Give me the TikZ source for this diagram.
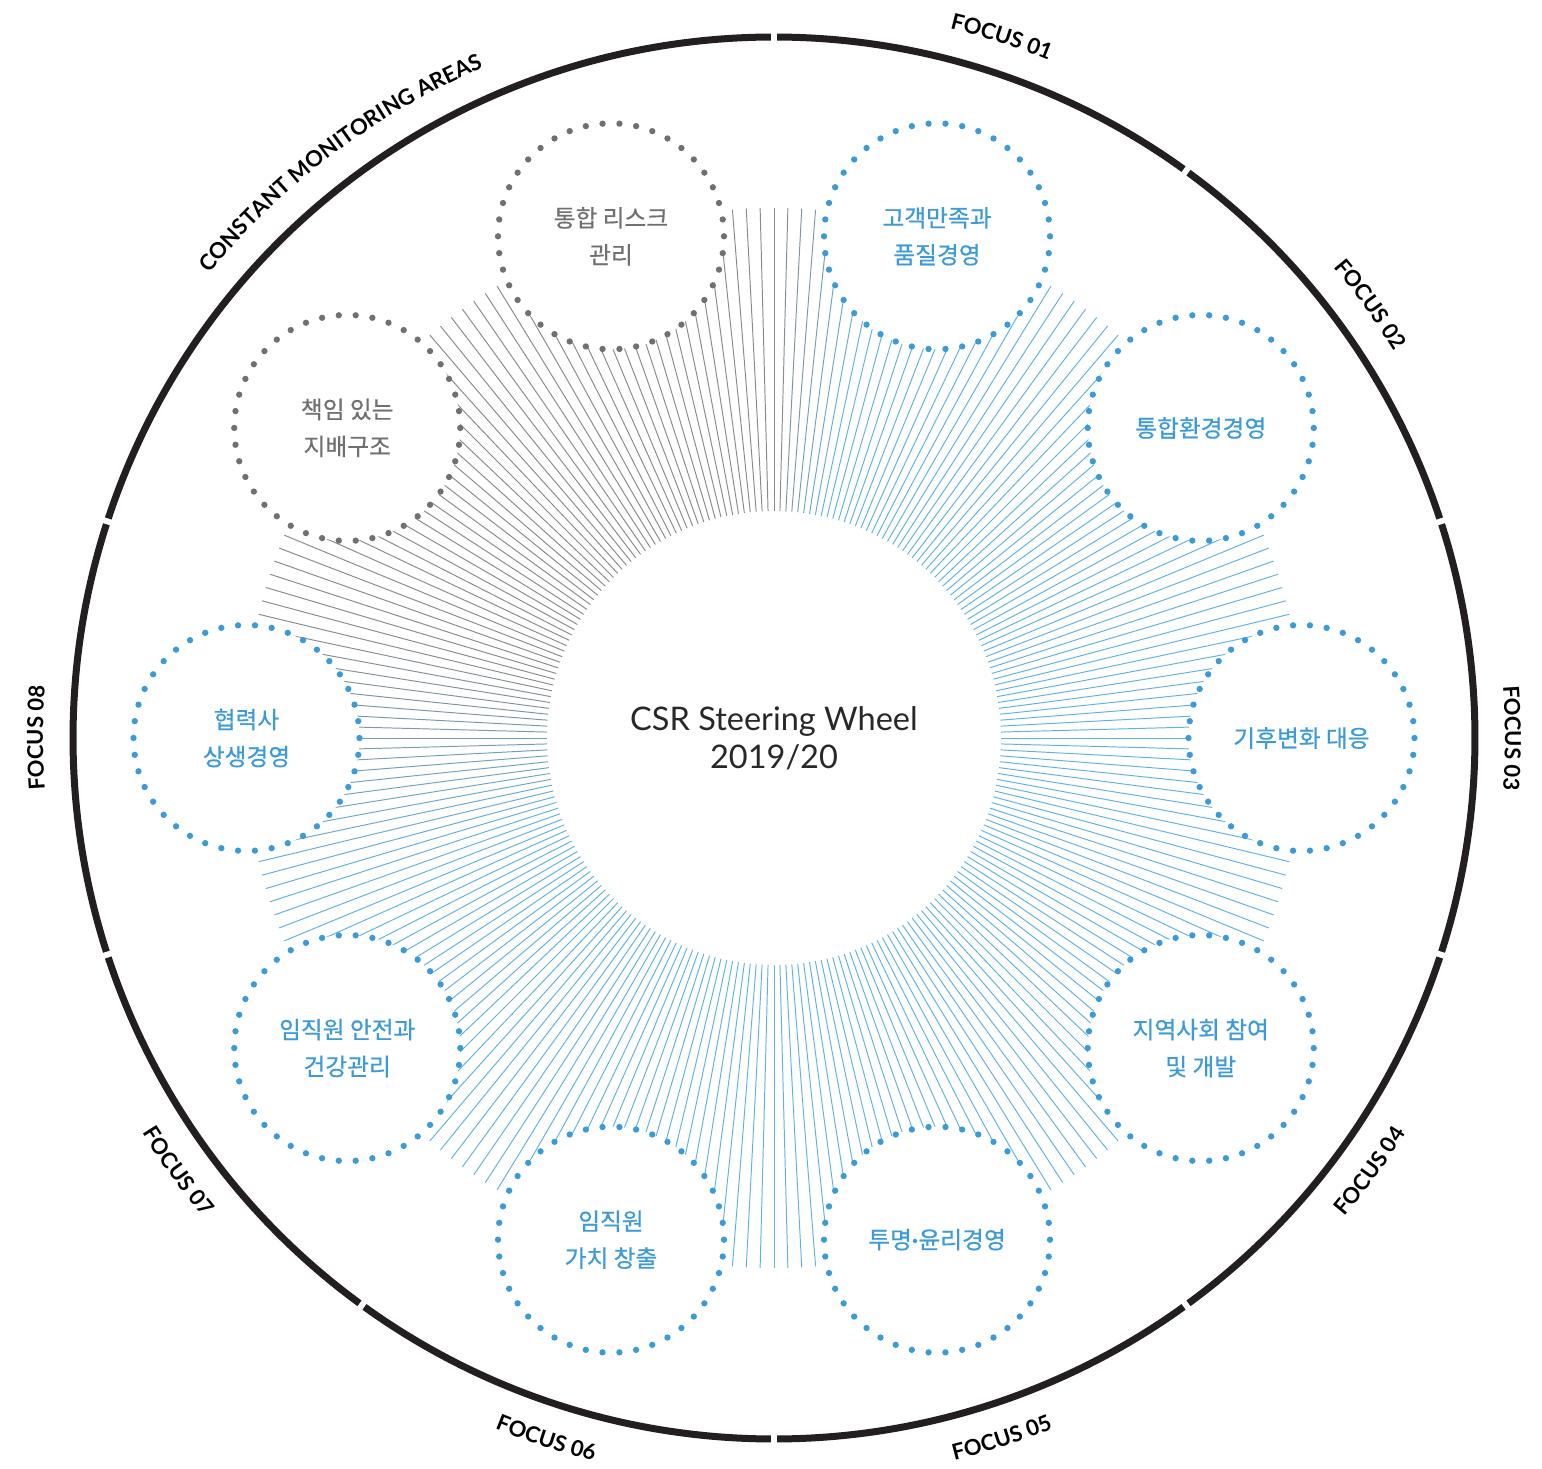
\documentclass[tikz,border=0pt]{standalone}
\usepackage{fontspec}
\setmainfont{Lato}
\newfontfamily\krfont[FakeBold=0.5]{Noto Sans CJK KR}
\usetikzlibrary{decorations.text}

\definecolor{ringc}{RGB}{35,31,32}
\definecolor{focusblue}{RGB}{59,154,216}
\definecolor{constgray}{RGB}{112,112,112}
\definecolor{rayblue}{RGB}{96,178,228}
\definecolor{raygray}{RGB}{138,138,138}
\definecolor{titlec}{RGB}{40,40,40}

\newcommand\lblfont{\fontsize{12.5}{14}\selectfont\bfseries}
%% label on the outside of the ring: tops outward (upper half) / inward (lower half)
\newcommand\uplabel[2]{\path[decorate, decoration={text along path, text align=center,
    text={|\lblfont|#2}}] ({#1+25}:14.62) arc[start angle={#1+25}, end angle={#1-25}, radius=14.62];}
\newcommand\lowlabel[2]{\path[decorate, decoration={text along path, text align=center,
    text={|\lblfont|#2}}] ({#1-25}:14.90) arc[start angle={#1-25}, end angle={#1+25}, radius=14.90];}

\begin{document}
\begin{tikzpicture}[
    % --- ring and rays ---
    ring/.style={draw=ringc, line width=0.14cm},
    ray/.style={line width=0.55pt},
    % --- dotted circles ---
    focus/.style={circle, minimum size=4.52cm, inner sep=0pt, fill=white,
                  draw=focusblue, line width=3.6pt, dash pattern=on 0pt off 9.62pt, line cap=round,
                  text=focusblue, align=center, font=\krfont\fontsize{13.5}{21}\selectfont},
    constant/.style={focus, draw=constgray, text=constgray},
    % --- centre title ---
    title/.style={align=center, text=titlec, font=\fontsize{18.5}{21.5}\selectfont},
]

%% =====================================================================
%%  1px = 0.02cm, centre of the wheel at (0,0)
%%  ring r = 14.02 | rays 4.54 -> 10.60 | circles at r = 10.55
%% =====================================================================
\useasboundingbox (-15.48,-14.60) rectangle (15.36,14.76);

%% ---- RAYS (gray in the monitoring sector, blue elsewhere) ----
\foreach \i in {0,...,239}{
    \pgfmathsetmacro\a{1.5*\i}
    \pgfmathtruncatemacro\g{100*max(0,min(1,min((\a-78)/12,(200-\a)/35)))}
    \draw[ray, draw=raygray!\g!rayblue] (\a:4.54) -- (\a:10.60);
}

%% ---- FOCUS CIRCLES ----
\node[focus] (quality)     at (72:10.55)   {고객만족과\\품질경영};
\node[focus] (environment) at (36:10.55)   {통합환경경영};
\node[focus] (climate)     at (0:10.55)    {기후변화 대응};
\node[focus] (community)   at (-36:10.55)  {지역사회 참여\\및 개발};
\node[focus] (ethics)      at (-72:10.55)  {투명{\rmfamily\bfseries·}윤리경영};
\node[focus] (value)       at (-108:10.55) {임직원\\가치 창출};
\node[focus] (safety)      at (-144:10.55) {임직원 안전과\\건강관리};
\node[focus] (partner)     at (180:10.55)  {협력사\\상생경영};

%% ---- CONSTANT MONITORING CIRCLES ----
\node[constant] (governance) at (144:10.55) {책임 있는\\지배구조};
\node[constant] (risk)       at (108:10.55) {통합 리스크\\관리};

%% ---- CENTRE ----
\node[title] (wheel) at (0,0) {CSR Steering Wheel\\2019/20};

%% ---- OUTER RING SEGMENTS ----
\foreach \a/\b in {54/90, 18/54, -18/18, -54/-18, -90/-54, -126/-90, -162/-126, 162/198, 90/162}
    \draw[ring] ({\a+0.25}:14.02) arc[start angle={\a+0.25}, end angle={\b-0.25}, radius=14.02];

%% ---- RING LABELS ----
\uplabel{72}{FOCUS 01}
\uplabel{36}{FOCUS 02}
\uplabel{0}{FOCUS 03}
\uplabel{180}{FOCUS 08}
\uplabel{127}{CONSTANT MONITORING AREAS}
\lowlabel{-36}{FOCUS 04}
\lowlabel{-72}{FOCUS 05}
\lowlabel{-108}{FOCUS 06}
\lowlabel{-144}{FOCUS 07}

\end{tikzpicture}
\end{document}
